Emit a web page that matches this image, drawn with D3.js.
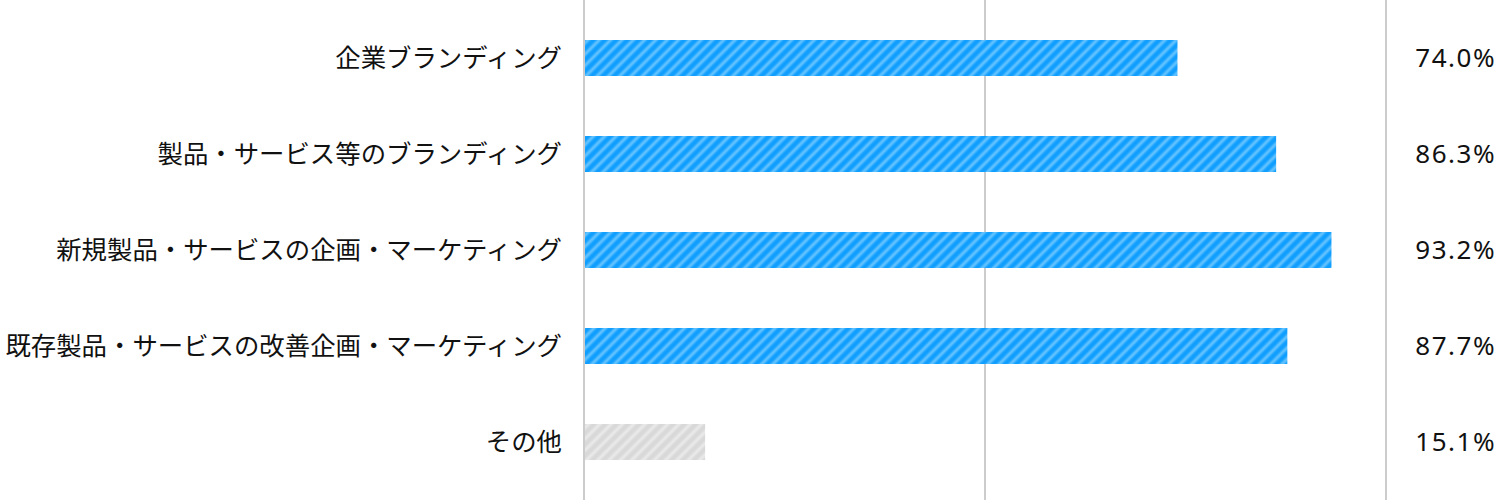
<!DOCTYPE html>
<html><head><meta charset="utf-8">
<script src="https://cdn.jsdelivr.net/npm/d3@7"></script>
<style>body{margin:0;background:#fff}svg{display:block}</style>
</head><body><svg id="c" width="1500" height="500"></svg>
<script>
const categories = ["企業ブランディング","製品・サービス等のブランディング","新規製品・サービスの企画・マーケティング","既存製品・サービスの改善企画・マーケティング","その他"];
const values = [74.0, 86.3, 93.2, 87.7, 15.1];
const valueLabels = ["74.0%","86.3%","93.2%","87.7%","15.1%"];
const gridTicks = [0, 50, 100];
const isOther = [false,false,false,false,true];

const svg = d3.select("#c");
const x = d3.scaleLinear().domain([0,100]).range([584,1386]);
const y = d3.scaleBand().domain(categories).range([10,490]).paddingInner(0.625).paddingOuter(0.3125);

const defs = svg.append("defs");
function makePattern(id, base, light){
  const g = defs.append("linearGradient").attr("id",id+"g").attr("x1","0").attr("x2","1").attr("y1","0").attr("y2","0");
  g.append("stop").attr("offset","0%").attr("stop-color",base);
  g.append("stop").attr("offset","15%").attr("stop-color",base);
  g.append("stop").attr("offset","50%").attr("stop-color",light);
  g.append("stop").attr("offset","85%").attr("stop-color",base);
  g.append("stop").attr("offset","100%").attr("stop-color",base);
  const p = defs.append("pattern").attr("id",id).attr("patternUnits","userSpaceOnUse")
    .attr("width",8).attr("height",8).attr("patternTransform","rotate(45)");
  p.append("rect").attr("width",8).attr("height",8).attr("fill","url(#"+id+"g)");
}
makePattern("pb","#0f9eff","#70c8ff");
makePattern("pg","#d8d8d8","#ececec");

svg.append("g").selectAll("line").data(gridTicks).join("line")
  .attr("x1",d=>x(d)).attr("x2",d=>x(d)).attr("y1",0).attr("y2",500)
  .attr("stroke","#cccccc").attr("stroke-width",2);

svg.append("g").selectAll("rect").data(categories).join("rect")
  .attr("x",x(0)+1).attr("y",d=>y(d)).attr("height",y.bandwidth())
  .attr("width",(d,i)=>x(values[i])-x(0)-1)
  .attr("fill",(d,i)=>isOther[i]?"url(#pg)":"url(#pb)");

svg.append("g").selectAll("text").data(categories).join("text")
  .attr("x",562).attr("y",d=>y(d)+y.bandwidth()/2).attr("dy","0.36em")
  .attr("text-anchor","end").attr("font-family","'Noto Sans CJK JP', sans-serif")
  .attr("font-size",25.4).attr("font-weight",400).attr("fill","#111").text(d=>d);

svg.append("g").selectAll("text").data(categories).join("text")
  .attr("x",1496).attr("y",d=>y(d)+y.bandwidth()/2).attr("dy","0.36em")
  .attr("text-anchor","end").attr("font-family","'Noto Sans', sans-serif")
  .attr("font-size",26).attr("letter-spacing","1.5px").attr("fill","#111").text((d,i)=>valueLabels[i]);
</script></body></html>
